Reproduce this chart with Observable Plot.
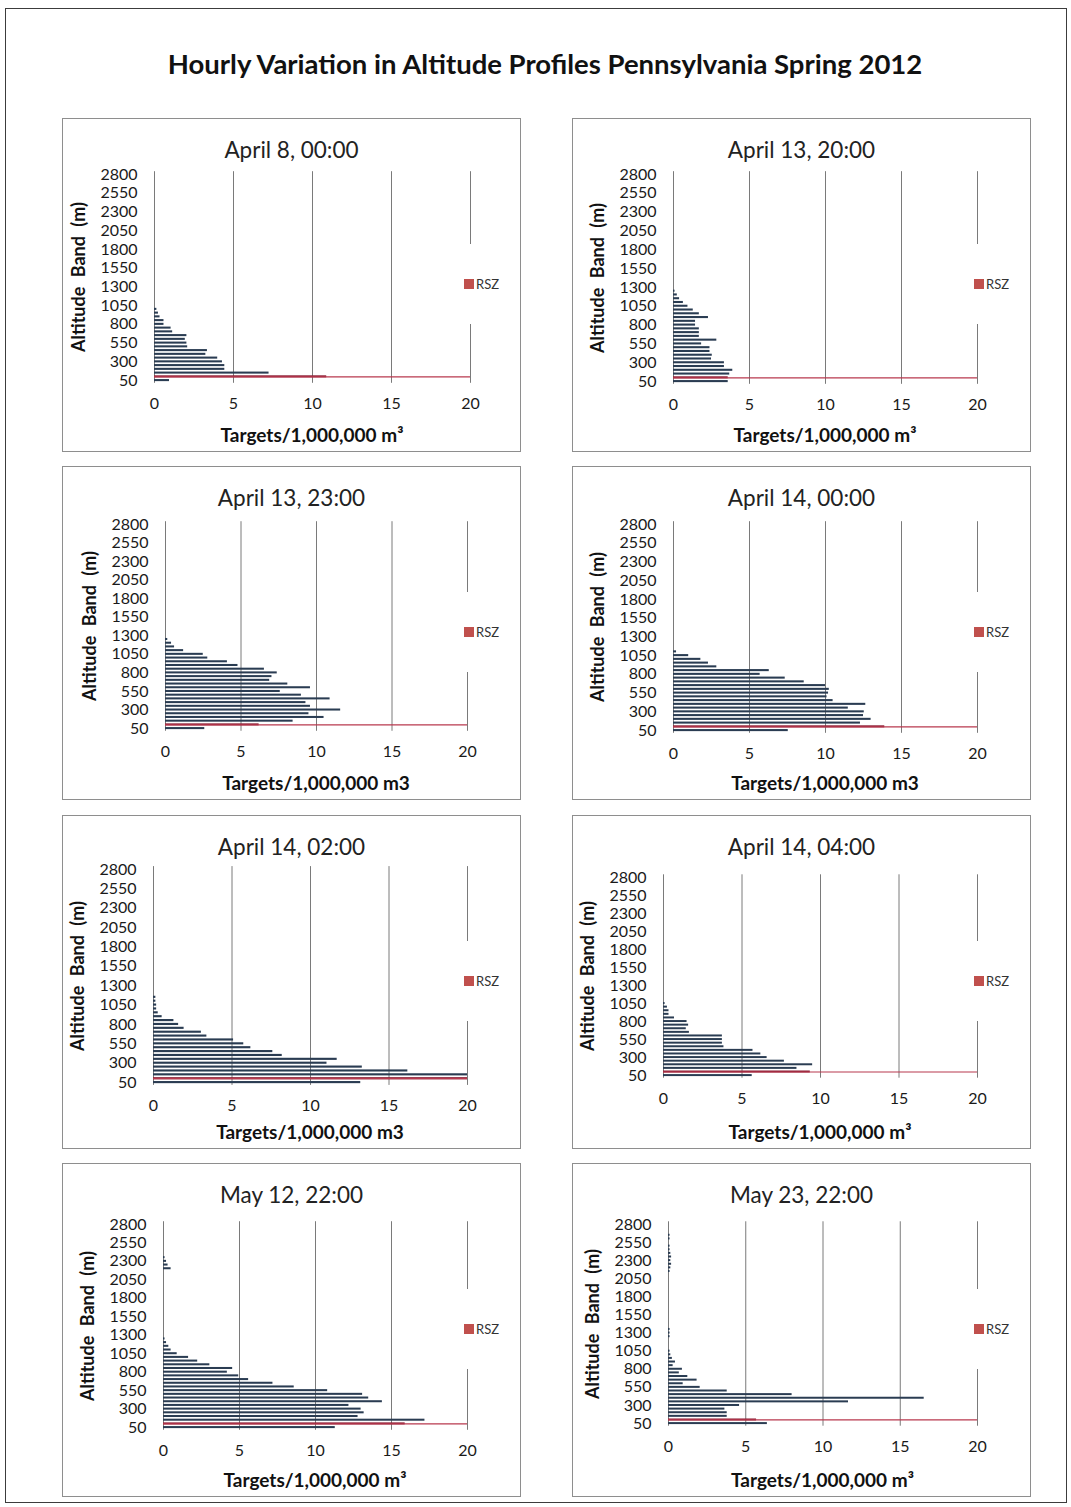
<!DOCTYPE html>
<html>
<head>
<meta charset="utf-8">
<script src="https://cdn.jsdelivr.net/npm/d3@7"></script>
<script src="https://cdn.jsdelivr.net/npm/@observablehq/plot@0.6"></script>
<style>
  body { margin: 0; background: #fff; }
  #page { position: relative; width: 1071px; height: 1507px; overflow: hidden;
          font-family: Lato, "Open Sans", sans-serif; color: #1a1a1a; background: #fff; }
  #outer { position: absolute; left: 5px; top: 8px; width: 1062px; height: 1495px;
           border: 1.5px solid #3c3c3c; box-sizing: border-box; }
  #title { position: absolute; left: 0; width: 1090px; top: 49px; line-height: 30px;
           text-align: center; font-weight: bold; font-size: 27.5px; color: #111; }
  .panel { position: absolute; width: 459px; height: 334px; }
  .panel svg { position: absolute; left: 0; top: 0; }
  .panel .box { position: absolute; left: 0; top: 0; width: 459px; height: 334px;
                border: 1.5px solid #8e8e8e; box-sizing: border-box; pointer-events: none; }
  .ptitle { position: absolute; left: 0; width: 459px; top: 18px; line-height: 28px;
            text-align: center; font-size: 22.5px; color: #222; }
  .ylab { position: absolute; font-weight: bold; font-size: 18px; white-space: nowrap;
          word-spacing: 5px; transform: translate(-50%, -50%) rotate(-90deg); color: #111; }
  .xlab { position: absolute; font-weight: bold; font-size: 19px; white-space: nowrap; line-height: 24px;
          transform: translate(-50%, -50%); color: #111; }
  .legend { position: absolute; background: #fff; width: 58px; height: 80px; }
  .legend .sw { position: absolute; left: 10px; top: 35px; width: 10px; height: 10px; background: #c0504d; }
  .legend .lt { position: absolute; left: 22px; top: 31px; font-size: 13px; line-height: 18px; color: #333; }
</style>
</head>
<body>
<div id="page">
  <div id="outer"></div>
  <div id="title">Hourly Variation in Altitude Profiles Pennsylvania Spring 2012</div>
</div>
<script>
// Altitude bands (m), bottom to top
const bands = [50, 100, 150, 200, 250, 300, 350, 400, 450, 500, 550, 600, 650, 700, 750, 800,
  850, 900, 950, 1000, 1050, 1100, 1150, 1200, 1250, 1300, 1350, 1400, 1450, 1500, 1550, 1600,
  1650, 1700, 1750, 1800, 1850, 1900, 1950, 2000, 2050, 2100, 2150, 2200, 2250, 2300, 2350, 2400,
  2450, 2500, 2550, 2600, 2650, 2700, 2750, 2800];
const yTicks = [50, 300, 550, 800, 1050, 1300, 1550, 1800, 2050, 2300, 2550, 2800];
const xTicks = [0, 5, 10, 15, 20];
const rszBand = 100; // rotor swept zone band

// Targets per 1,000,000 m³ in each band, starting at 50 m (bands past the end are empty)
const apr08_0000 = [0.95, 10.9, 7.25, 4.45, 4.45, 4.3, 4.0, 3.25, 3.35, 2.1, 2.05, 1.95, 2.05,
  1.15, 1.05, 0.6, 0.6, 0.35, 0.25, 0.15];
const apr13_2000 = [3.6, 3.6, 3.7, 3.9, 3.35, 3.35, 2.5, 2.55, 2.4, 2.4, 1.85, 2.85, 1.7, 1.7,
  1.7, 1.45, 1.45, 2.3, 1.7, 1.3, 0.95, 0.65, 0.4, 0.25, 0.1];
const apr13_2300 = [2.6, 6.2, 8.45, 10.5, 9.5, 11.6, 9.6, 9.3, 10.9, 9.0, 7.6, 9.6, 8.1, 6.9,
  7.05, 7.4, 6.55, 4.8, 4.1, 2.8, 2.5, 1.2, 0.6, 0.4, 0.15];
const apr14_0000 = [7.55, 13.9, 12.3, 13.0, 12.5, 12.55, 11.5, 12.65, 10.5, 10.1, 10.2, 10.25,
  10.0, 8.6, 7.35, 5.7, 6.3, 2.85, 2.3, 1.8, 1.0, 0.2];
const apr14_0200 = [13.2, 20, 20, 16.2, 13.3, 11.05, 11.7, 8.2, 7.6, 6.2, 5.75, 5.1, 3.4, 3.05,
  1.95, 1.6, 1.3, 0.55, 0.3, 0.2, 0.2, 0.15, 0.15];
const apr14_0400 = [5.65, 9.35, 8.5, 9.5, 7.7, 6.6, 6.2, 5.7, 3.85, 3.75, 3.75, 3.75, 1.65, 1.45,
  1.6, 1.5, 0.7, 0.35, 0.35, 0.25, 0.1];
const may12_2200 = [11.3, 15.9, 17.2, 12.8, 13.2, 13.0, 12.2, 14.4, 13.5, 13.1, 10.8, 8.6, 7.2,
  5.6, 4.95, 4.2, 4.55, 3.05, 2.25, 1.65, 0.9, 0.5, 0.35, 0.2, 0.1,
  0, 0, 0, 0, 0, 0, 0, 0, 0, 0, 0, 0, 0, 0, 0, 0, 0, 0,
  0.5, 0.3, 0.2, 0.1];
const may23_2200 = [6.4, 5.7, 3.8, 3.8, 3.65, 4.6, 11.65, 16.55, 8.0, 3.8, 2.05, 0.95, 1.85, 1.25,
  0.7, 0.9, 0.3, 0.45, 0.25, 0.15, 0.1,
  0, 0, 0, 0.1, 0.1, 0.1,
  0, 0, 0, 0, 0, 0, 0, 0, 0, 0, 0, 0, 0, 0, 0,
  0.1, 0.15, 0.2, 0.15, 0.2, 0.15, 0.1, 0.1, 0, 0.1, 0.1];

const panelTitles = ["April 8, 00:00", "April 13, 20:00", "April 13, 23:00", "April 14, 00:00",
  "April 14, 02:00", "April 14, 04:00", "May 12, 22:00", "May 23, 22:00"];
const profiles = [apr08_0000, apr13_2000, apr13_2300, apr14_0000,
  apr14_0200, apr14_0400, may12_2200, may23_2200];
const xLabels = ["Targets/1,000,000 m³", "Targets/1,000,000 m³", "Targets/1,000,000 m3",
  "Targets/1,000,000 m3", "Targets/1,000,000 m3", "Targets/1,000,000 m³",
  "Targets/1,000,000 m³", "Targets/1,000,000 m³"];

// Panel placement and plot-frame geometry (x of 0 and 20, y of the 2800 and 50 bands)
const panelX = [62, 572];
const panelY = [118, 466, 815, 1163];
const frames = [
  {x0: 92, x20: 408, top: 56, bottom: 262},
  {x0: 101, x20: 405, top: 56, bottom: 263},
  {x0: 103, x20: 405, top: 58, bottom: 262},
  {x0: 101, x20: 405, top: 58, bottom: 264},
  {x0: 91, x20: 405, top: 54, bottom: 267},
  {x0: 91, x20: 405, top: 62, bottom: 260},
  {x0: 101, x20: 405, top: 61, bottom: 264},
  {x0: 96, x20: 405, top: 61, bottom: 260}
];

const W = 459, H = 334;
const page = document.getElementById("page");

profiles.forEach((values, k) => {
  const f = frames[k];
  const rows = values.map((v, i) => ({band: bands[i], value: v})).filter(d => d.value > 0);
  const step = (f.bottom - f.top) / (bands.length - 1);

  const panel = document.createElement("div");
  panel.className = "panel";
  panel.style.left = panelX[k % 2] + "px";
  panel.style.top = panelY[Math.floor(k / 2)] + "px";

  const chart = Plot.plot({
    width: W,
    height: H,
    marginLeft: f.x0,
    marginRight: W - f.x20,
    marginTop: f.top - 0.75 * step,
    marginBottom: H - (f.bottom + 0.75 * step),
    style: {fontFamily: "Lato, sans-serif", fontSize: "16px", color: "#1a1a1a", background: "transparent"},
    x: {domain: [0, 20], ticks: xTicks, tickSize: 0, tickPadding: 14, label: null},
    y: {type: "band", domain: bands.slice().reverse(), padding: 0.45, ticks: yTicks,
        tickFormat: d => String(d), tickSize: 0, tickPadding: 17, label: null},
    marks: [
      Plot.ruleX(xTicks, {stroke: "#7a7a7a", strokeWidth: 1}),
      Plot.barX(rows, {x: "value", y: "band",
        fill: d => d.band === rszBand ? "#8a1e34" : "#2a3c52"}),
      Plot.ruleY([rszBand], {x1: 0, x2: 20, stroke: "#b8384e", strokeWidth: 1.2})
    ]
  });
  panel.appendChild(chart);

  const title = document.createElement("div");
  title.className = "ptitle";
  title.textContent = panelTitles[k];
  panel.appendChild(title);

  const ylab = document.createElement("div");
  ylab.className = "ylab";
  ylab.textContent = "Altitude Band (m)";
  ylab.style.left = (f.x0 - 76) + "px";
  ylab.style.top = ((f.top + f.bottom) / 2) + "px";
  panel.appendChild(ylab);

  const xlab = document.createElement("div");
  xlab.className = "xlab";
  xlab.textContent = xLabels[k];
  xlab.style.left = ((f.x0 + f.x20) / 2) + "px";
  xlab.style.top = "317px";
  panel.appendChild(xlab);

  const legend = document.createElement("div");
  legend.className = "legend";
  legend.style.left = "392px";
  legend.style.top = "126px";
  legend.innerHTML = '<div class="sw"></div><div class="lt">RSZ</div>';
  panel.appendChild(legend);

  const box = document.createElement("div");
  box.className = "box";
  panel.appendChild(box);

  page.appendChild(panel);
});
</script>
</body>
</html>
